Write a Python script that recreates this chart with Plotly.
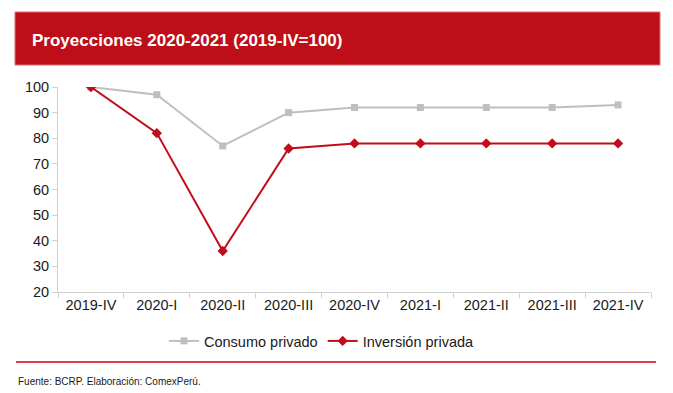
import plotly.graph_objects as go

categories = ["2019-IV", "2020-I", "2020-II", "2020-III", "2020-IV", "2021-I", "2021-II", "2021-III", "2021-IV"]
consumo = [100, 97, 77, 90, 92, 92, 92, 92, 93]
inversion = [100, 82, 36, 76, 78, 78, 78, 78, 78]
y_ticks = [20, 30, 40, 50, 60, 70, 80, 90, 100]

# page body has an 8px default margin; figure drawn from (8, 8)
OFF = 8
W, H = 665, 385
PL, PR, PT, PB = 58, 651, 87, 292  # plot area in screen pixels
L, R, T, B = PL - OFF, W - (PR - OFF), PT - OFF, H - (PB - OFF)
pw, ph = PR - PL, PB - PT

def px(x):
    return (x - PL) / pw

def py(y):
    return (PB - y) / ph

fig = go.Figure()
fig.add_trace(go.Scatter(
    x=categories, y=consumo, name="Consumo privado", mode="lines+markers",
    line=dict(color="#bfbfbf", width=2),
    marker=dict(symbol="square", size=7, color="#bfbfbf"),
))
fig.add_trace(go.Scatter(
    x=categories, y=inversion, name="Inversión privada", mode="lines+markers",
    line=dict(color="#c00d1e", width=2),
    marker=dict(symbol="diamond", size=8, color="#c00d1e"),
))

fig.update_layout(
    width=W, height=H,
    margin=dict(l=L, r=R, t=T, b=B, pad=0),
    paper_bgcolor="white", plot_bgcolor="white",
    font=dict(family="Liberation Sans, Arial, sans-serif", size=14.5, color="#1a1a1a"),
    showlegend=True,
    legend=dict(orientation="h", x=px(322), xanchor="center", y=py(341), yanchor="middle",
                font=dict(size=14.5, color="#1a1a1a"), itemwidth=30, traceorder="normal"),
    xaxis=dict(type="category", range=[-0.5, 8.5], showline=True, linecolor="#d0d0d0", linewidth=1,
               ticks="outside", tickson="boundaries", ticklen=5, tickcolor="#d0d0d0",
               showgrid=False, zeroline=False, tickfont=dict(size=14.5)),
    yaxis=dict(range=[20, 100], tickvals=y_ticks, showline=True, linecolor="#d0d0d0", linewidth=1,
               ticks="outside", ticklen=5, tickcolor="#d0d0d0", showgrid=False, zeroline=False,
               tickfont=dict(size=14.5)),
    shapes=[
        dict(type="rect", xref="paper", yref="paper", x0=px(15), x1=px(660), y0=py(65), y1=py(12),
             fillcolor="#be0e17", line=dict(color="#e07070", width=1), layer="below"),
        dict(type="line", xref="paper", yref="paper", x0=px(16), x1=px(656), y0=py(362), y1=py(362),
             line=dict(color="#d9434f", width=2)),
    ],
    annotations=[
        dict(text="<b>Proyecciones 2020-2021 (2019-IV=100)</b>", xref="paper", yref="paper",
             x=px(30), y=py(40), xanchor="left", yanchor="middle", showarrow=False,
             font=dict(size=17, color="white")),
        dict(text="Fuente: BCRP. Elaboración: ComexPerú.", xref="paper", yref="paper",
             x=px(16), y=py(381), xanchor="left", yanchor="middle", showarrow=False,
             font=dict(size=10, color="#1a1a1a")),
    ],
)

fig.write_html("out.html")
